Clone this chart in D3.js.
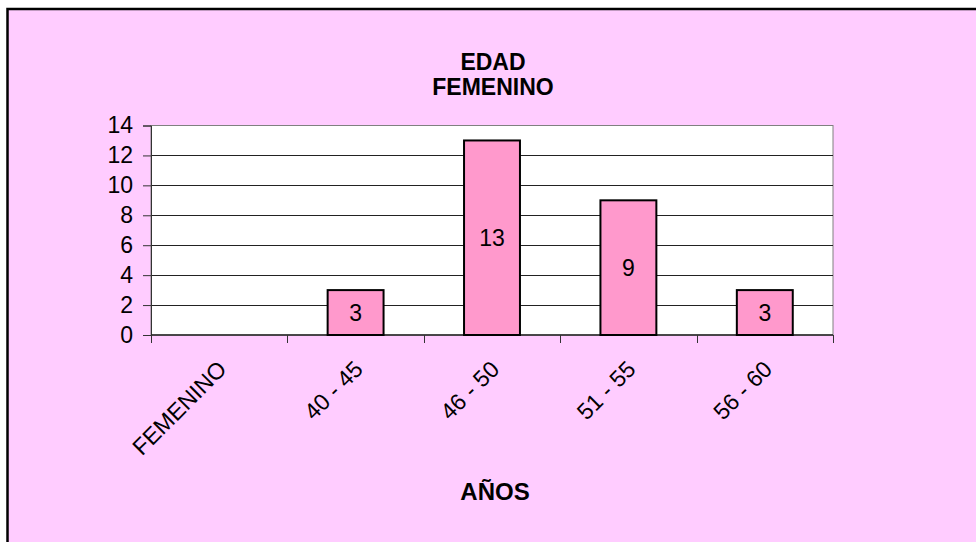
<!DOCTYPE html>
<html lang="es">
<head>
    <meta charset="UTF-8">
    <title>EDAD FEMENINO</title>
    <script src="https://cdnjs.cloudflare.com/ajax/libs/d3/7.8.5/d3.min.js"></script>
    <style>
        body { margin: 0; background: #ffffff; }
        svg { display: block; font-family: Arial, "Liberation Sans", sans-serif; }
    </style>
</head>
<body>
    <svg width="976" height="542"></svg>
    <script>
// data
const categories = ["FEMENINO", "40 - 45", "46 - 50", "51 - 55", "56 - 60"];
const values = [null, 3, 13, 9, 3];
const yTicks = [0, 2, 4, 6, 8, 10, 12, 14];
const titleLines = ["EDAD", "FEMENINO"];
const xTitle = "AÑOS";

const svg = d3.select("svg");
const fontSize = 23;

// chart frame
svg.append("rect")
    .attr("x", 7.5).attr("y", 9)
    .attr("width", 1000).attr("height", 600)
    .attr("fill", "#ffccff")
    .attr("stroke", "#000").attr("stroke-width", 2.5);

const plot = { left: 151, right: 833, top: 125.5, bottom: 335 };

const x = d3.scaleBand()
    .domain(categories)
    .range([plot.left, plot.right]);

const y = d3.scaleLinear()
    .domain([0, 14])
    .range([plot.bottom, plot.top]);

// plot area
svg.append("rect")
    .attr("x", plot.left).attr("y", plot.top)
    .attr("width", plot.right - plot.left)
    .attr("height", plot.bottom - plot.top)
    .attr("fill", "#fff")
    .attr("stroke", "#808080").attr("stroke-width", 1);

// gridlines
svg.append("g")
    .selectAll("line")
    .data(yTicks.filter(t => t > 0 && t < 14))
    .join("line")
    .attr("x1", plot.left).attr("x2", plot.right)
    .attr("y1", d => Math.round(y(d)) + 0.5)
    .attr("y2", d => Math.round(y(d)) + 0.5)
    .attr("stroke", "#222").attr("stroke-width", 1);

// y axis
const yAxis = svg.append("g")
    .attr("transform", `translate(${plot.left},0)`)
    .call(d3.axisLeft(y).tickValues(yTicks).tickSize(8).tickPadding(10));
yAxis.select(".domain").attr("stroke", "#333");
yAxis.selectAll(".tick line").attr("stroke", "#333");
yAxis.selectAll("text")
    .attr("font-size", fontSize)
    .attr("fill", "#000")
    .attr("font-family", "Arial, 'Liberation Sans', sans-serif");

// x axis line and ticks at category boundaries
const xAxis = svg.append("g");
xAxis.append("line")
    .attr("x1", plot.left).attr("x2", plot.right)
    .attr("y1", plot.bottom).attr("y2", plot.bottom)
    .attr("stroke", "#222").attr("stroke-width", 1.5);
const bounds = categories.map(c => x(c)).concat([x.range()[1]]);
xAxis.selectAll("line.tk")
    .data(bounds)
    .join("line")
    .attr("class", "tk")
    .attr("x1", d => Math.round(d) + 0.5).attr("x2", d => Math.round(d) + 0.5)
    .attr("y1", plot.bottom).attr("y2", plot.bottom + 8)
    .attr("stroke", "#333");

xAxis.selectAll("text")
    .data(categories)
    .join("text")
    .attr("transform", d => `translate(${x(d) + x.bandwidth() / 2 - 3},${plot.bottom + 24}) rotate(-45)`)
    .attr("text-anchor", "end")
    .attr("dy", "0.72em")
    .attr("font-size", fontSize)
    .text(d => d);

// bars
const barW = x.bandwidth() * 0.41;
const data = categories.map((c, i) => ({ cat: c, v: values[i] })).filter(d => d.v != null);

svg.append("g")
    .selectAll("rect")
    .data(data)
    .join("rect")
    .attr("x", d => x(d.cat) + (x.bandwidth() - barW) / 2)
    .attr("y", d => y(d.v))
    .attr("width", barW)
    .attr("height", d => y(0) - y(d.v))
    .attr("fill", "#ff99cc")
    .attr("stroke", "#000").attr("stroke-width", 2);

svg.append("g")
    .selectAll("text")
    .data(data)
    .join("text")
    .attr("x", d => x(d.cat) + x.bandwidth() / 2)
    .attr("y", d => (y(d.v) + y(0)) / 2)
    .attr("dy", "0.36em")
    .attr("text-anchor", "middle")
    .attr("font-size", fontSize)
    .text(d => d.v);

// titles
svg.append("text")
    .attr("text-anchor", "middle")
    .attr("font-size", 23).attr("font-weight", "bold")
    .selectAll("tspan")
    .data(titleLines)
    .join("tspan")
    .attr("x", 493)
    .attr("y", (d, i) => 70 + i * 25)
    .text(d => d);

svg.append("text")
    .attr("x", 495).attr("y", 500)
    .attr("text-anchor", "middle")
    .attr("font-size", 24).attr("font-weight", "bold")
    .text(xTitle);
    </script>
</body>
</html>
